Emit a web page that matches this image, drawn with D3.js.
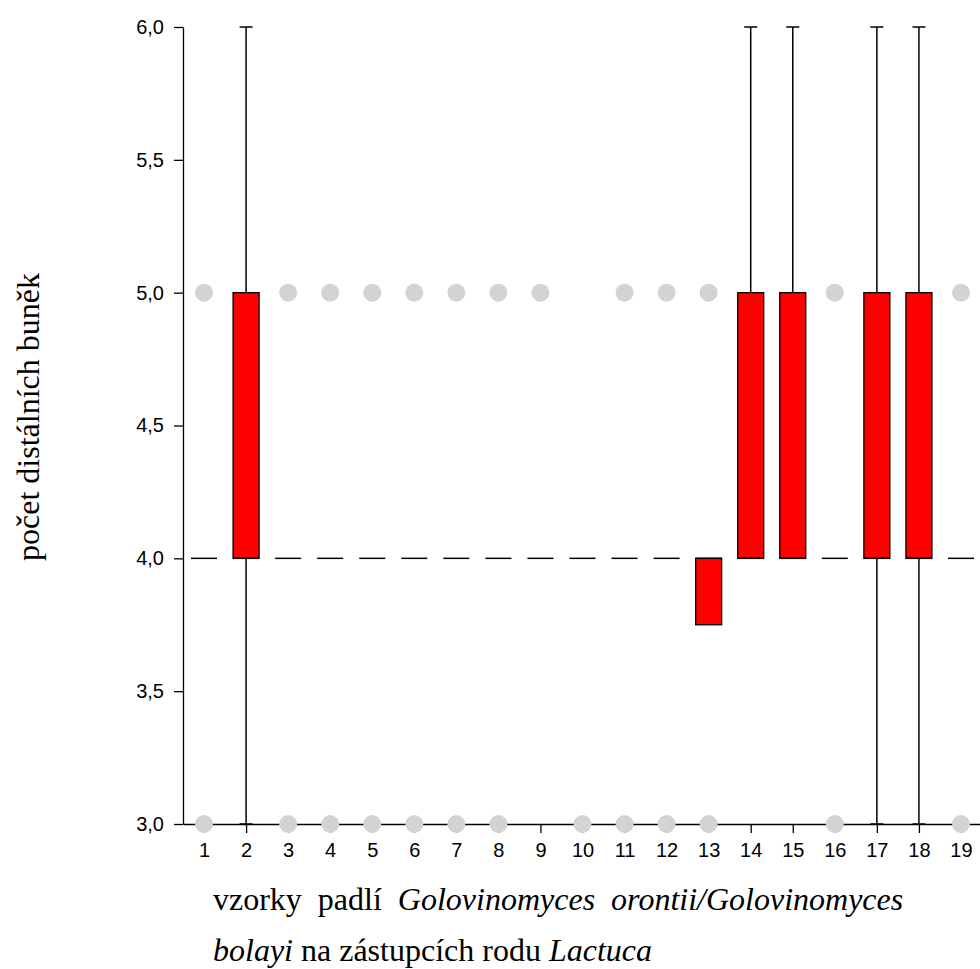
<!DOCTYPE html>
<html>
<head>
<meta charset="utf-8">
<script src="https://cdn.jsdelivr.net/npm/d3@7"></script>
<style>
  body { margin: 0; background: #fff; }
  svg { display: block; }
</style>
</head>
<body>
<script>
const m = {
  width: 980,
  height: 969
}

// sample numbers on the x axis
const samples = d3.range(1, 20);
// box statistics per sample
const lowWhisker = [4, 3, 4, 4, 4, 4, 4, 4, 4, 4, 4, 4, 3.75, 4, 4, 4, 3, 3, 4];
const q1 = [4, 4, 4, 4, 4, 4, 4, 4, 4, 4, 4, 4, 3.75, 4, 4, 4, 4, 4, 4];
const median = [4, 4, 4, 4, 4, 4, 4, 4, 4, 4, 4, 4, 4, 4, 4, 4, 4, 4, 4];
const q3 = [4, 5, 4, 4, 4, 4, 4, 4, 4, 4, 4, 4, 4, 5, 5, 4, 5, 5, 4];
const highWhisker = [4, 6, 4, 4, 4, 4, 4, 4, 4, 4, 4, 4, 4, 6, 6, 4, 6, 6, 4];
// outlier points: [sample, value]
const outliers = [
  [1, 5], [1, 3], [3, 5], [3, 3], [4, 5], [4, 3], [5, 5], [5, 3],
  [6, 5], [6, 3], [7, 5], [7, 3], [8, 5], [8, 3], [9, 5], [10, 3],
  [11, 5], [11, 3], [12, 5], [12, 3], [13, 5], [13, 3], [16, 5], [16, 3],
  [19, 5], [19, 3]
];
const yTicks = [3, 3.5, 4, 4.5, 5, 5.5, 6];

let svg = d3.select("body")
  .append("svg")
  .attr("width", m.width)
  .attr("height", m.height);

let x = d3.scaleLinear()
  .domain([0.5, 19.5])
  .range([183, 982]);

let y = d3.scaleLinear()
  .domain([3, 6])
  .range([824, 27]);

const boxW = 26;
const capW = 13;
const fmt = d => d3.format(".1f")(d).replace(".", ",");
const serif = "'Liberation Serif', 'Times New Roman', serif";

let rows = samples.map((s, i) => ({
  s: s, lo: lowWhisker[i], q1: q1[i], med: median[i], q3: q3[i], hi: highWhisker[i]
}));

// axes
let yAxis = svg.append("g")
  .attr("transform", "translate(183,0)")
  .call(d3.axisLeft(y).tickValues(yTicks).tickFormat(fmt).tickSize(9).tickSizeOuter(0));

let xAxis = svg.append("g")
  .attr("transform", "translate(0,824)")
  .call(d3.axisBottom(x).tickValues(samples).tickFormat(d3.format("d")).tickSize(9).tickSizeOuter(0));

[yAxis, xAxis].forEach(a => {
  a.attr("font-size", 20).attr("font-family", "'Liberation Sans', Arial, sans-serif");
  a.select(".domain").attr("stroke", "#000").attr("stroke-width", 1.3);
  a.selectAll(".tick line").attr("stroke", "#000").attr("stroke-width", 1.3);
  a.selectAll("text").attr("fill", "#000");
});
yAxis.selectAll("text").attr("x", -19);
xAxis.selectAll("text").attr("y", 19);

let boxes = svg.append("g");

// whiskers
rows.filter(d => d.hi > d.q3).forEach(d => {
  boxes.append("line")
    .attr("x1", x(d.s)).attr("x2", x(d.s))
    .attr("y1", y(d.q3)).attr("y2", y(d.hi))
    .attr("stroke", "#000").attr("stroke-width", 1.5);
  boxes.append("line")
    .attr("x1", x(d.s) - capW / 2).attr("x2", x(d.s) + capW / 2)
    .attr("y1", y(d.hi)).attr("y2", y(d.hi))
    .attr("stroke", "#000").attr("stroke-width", 1.5);
});
rows.filter(d => d.lo < d.q1).forEach(d => {
  boxes.append("line")
    .attr("x1", x(d.s)).attr("x2", x(d.s))
    .attr("y1", y(d.q1)).attr("y2", y(d.lo))
    .attr("stroke", "#000").attr("stroke-width", 1.5);
  boxes.append("line")
    .attr("x1", x(d.s) - capW / 2).attr("x2", x(d.s) + capW / 2)
    .attr("y1", y(d.lo)).attr("y2", y(d.lo))
    .attr("stroke", "#000").attr("stroke-width", 1.5);
});

// boxes
boxes.selectAll("rect")
  .data(rows.filter(d => d.q3 > d.q1))
  .enter()
  .append("rect")
  .attr("x", d => x(d.s) - boxW / 2)
  .attr("width", boxW)
  .attr("y", d => y(d.q3))
  .attr("height", d => y(d.q1) - y(d.q3))
  .attr("fill", "#ff0000")
  .attr("stroke", "#000")
  .attr("stroke-width", 1.3);

// medians
boxes.selectAll("line.med")
  .data(rows)
  .enter()
  .append("line")
  .attr("class", "med")
  .attr("x1", d => x(d.s) - boxW / 2)
  .attr("x2", d => x(d.s) + boxW / 2)
  .attr("y1", d => y(d.med))
  .attr("y2", d => y(d.med))
  .attr("stroke", "#000")
  .attr("stroke-width", 1.5);

// outliers
svg.append("g").selectAll("circle")
  .data(outliers)
  .enter()
  .append("circle")
  .attr("cx", d => x(d[0]))
  .attr("cy", d => y(d[1]))
  .attr("r", 9)
  .attr("fill", "#d3d3d3");

// titles
svg.append("text")
  .attr("transform", "translate(39,417) rotate(-90)")
  .attr("text-anchor", "middle")
  .attr("font-family", serif)
  .attr("font-size", 32)
  .text("počet distálních buněk");

let t1 = svg.append("text")
  .attr("x", 213)
  .attr("y", 910)
  .attr("font-family", serif)
  .attr("font-size", 32)
  .attr("word-spacing", 8);
t1.append("tspan").text("vzorky padlí ");
t1.append("tspan").attr("font-style", "italic").text("Golovinomyces orontii/Golovinomyces");

let t2 = svg.append("text")
  .attr("x", 213)
  .attr("y", 961)
  .attr("font-family", serif)
  .attr("font-size", 32);
t2.append("tspan").attr("font-style", "italic").text("bolayi");
t2.append("tspan").text(" na zástupcích rodu ");
t2.append("tspan").attr("font-style", "italic").text("Lactuca");
</script>
</body>
</html>
